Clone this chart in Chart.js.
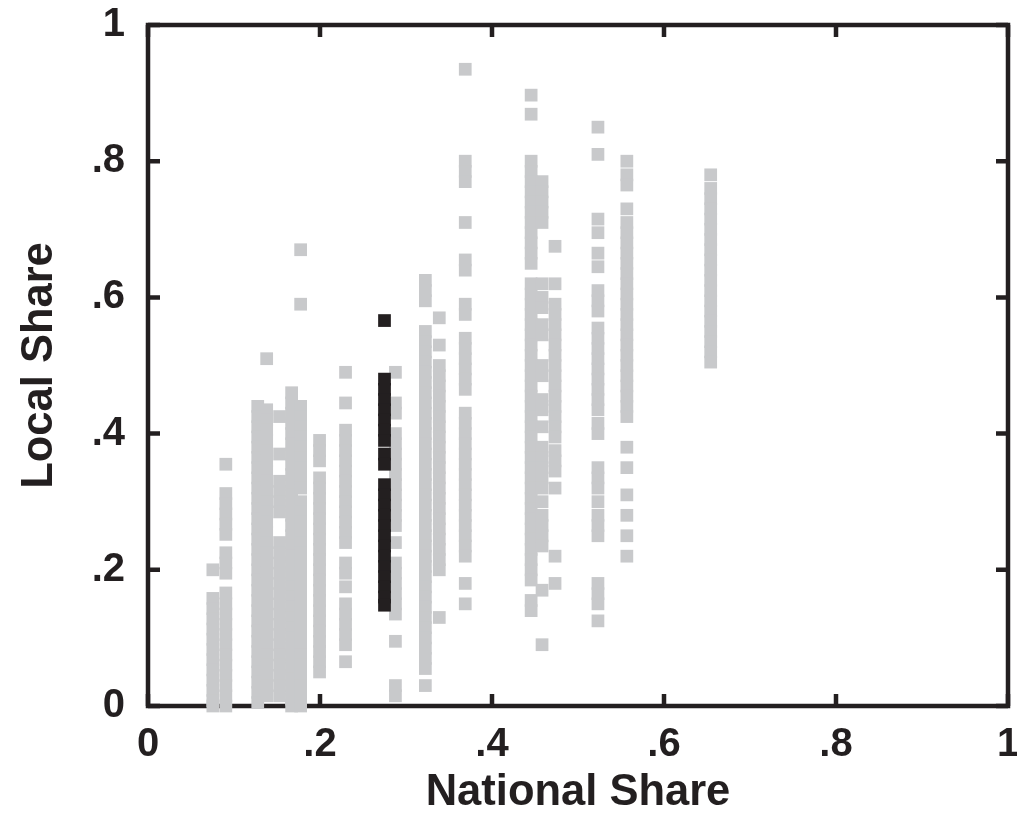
<!DOCTYPE html>
<html>
<head>
<meta charset="utf-8">
<script src="https://cdn.jsdelivr.net/npm/chart.js@4.4.1/dist/chart.umd.min.js"></script>
<style>
  html, body { margin: 0; padding: 0; background: #fff; }
  canvas { display: block; }
</style>
</head>
<body>
<canvas id="chart" width="1017" height="831"></canvas>
<script>
// axis ticks
const tickValues = [0, 0.2, 0.4, 0.6, 0.8, 1];
const tickLabels = ['0', '.2', '.4', '.6', '.8', '1'];

// highlighted column (black)
const highlightX = 0.275;
const highlightY = [0.566, 0.48, 0.465, 0.45, 0.435, 0.42, 0.405, 0.39, 0.37, 0.355, 0.325, 0.31, 0.295,
  0.28, 0.265, 0.25, 0.235, 0.22, 0.205, 0.19, 0.175, 0.16, 0.148];

// grey columns: national share of each column, then local shares
const colX = [0.0754, 0.0905, 0.1276, 0.138, 0.153, 0.167, 0.1775, 0.1995, 0.2297, 0.2877,
  0.3225, 0.3387, 0.3689, 0.4455, 0.4582, 0.4733, 0.5232, 0.5568, 0.6543];

const col0754 = [0.2, 0.158, 0.143, 0.128, 0.113, 0.098, 0.083, 0.068, 0.053, 0.038, 0.023, 0.008, 0];
const col0905 = [0.355, 0.312, 0.297, 0.282, 0.267, 0.252, 0.225, 0.21, 0.195, 0.166, 0.15, 0.135, 0.12,
  0.105, 0.09, 0.075, 0.06, 0.045, 0.03, 0.015, 0];
const col1276 = [0.44, 0.425, 0.41, 0.395, 0.38, 0.365, 0.35, 0.335, 0.32, 0.305, 0.29, 0.275, 0.26, 0.245,
  0.23, 0.215, 0.2, 0.185, 0.17, 0.155, 0.14, 0.125, 0.11, 0.095, 0.08, 0.065, 0.05, 0.035, 0.02, 0.005];
const col138 = [0.51, 0.435, 0.42, 0.405, 0.39, 0.375, 0.36, 0.345, 0.33, 0.315, 0.3, 0.285, 0.27, 0.255,
  0.24, 0.225, 0.21, 0.195, 0.18, 0.165, 0.15, 0.135, 0.12, 0.105, 0.09, 0.075, 0.06, 0.045, 0.03, 0.015];
const col153 = [0.425, 0.37, 0.33, 0.315, 0.3, 0.285, 0.24, 0.225, 0.21, 0.195, 0.18, 0.165, 0.15, 0.135,
  0.12, 0.105, 0.09, 0.075, 0.06, 0.045, 0.03, 0.015];
const col167 = [0.46, 0.445, 0.43, 0.415, 0.4, 0.385, 0.37, 0.355, 0.34, 0.325, 0.31, 0.295, 0.28, 0.265,
  0.25, 0.235, 0.22, 0.205, 0.19, 0.175, 0.16, 0.145, 0.13, 0.115, 0.1, 0.085, 0.07, 0.055, 0.04, 0.025, 0.01, 0];
const col1775 = [0.67, 0.59, 0.44, 0.425, 0.41, 0.395, 0.38, 0.365, 0.35, 0.335, 0.32, 0.3, 0.285, 0.27,
  0.255, 0.24, 0.225, 0.21, 0.195, 0.18, 0.165, 0.15, 0.135, 0.12, 0.105, 0.09, 0.075, 0.06, 0.045, 0.03,
  0.015, 0];
const col1995 = [0.39, 0.375, 0.36, 0.335, 0.32, 0.305, 0.29, 0.275, 0.26, 0.245, 0.23, 0.215, 0.2, 0.185,
  0.17, 0.155, 0.14, 0.125, 0.11, 0.095, 0.08, 0.065, 0.05];
const col2297 = [0.49, 0.445, 0.405, 0.39, 0.375, 0.36, 0.345, 0.33, 0.315, 0.3, 0.285, 0.27, 0.255, 0.24,
  0.21, 0.195, 0.175, 0.15, 0.135, 0.12, 0.105, 0.09, 0.065];
const col2877 = [0.49, 0.445, 0.43, 0.4, 0.385, 0.37, 0.355, 0.34, 0.325, 0.31, 0.295, 0.28, 0.265, 0.24,
  0.21, 0.195, 0.18, 0.165, 0.15, 0.135, 0.095, 0.03, 0.015];
const col3225 = [0.625, 0.61, 0.595, 0.55, 0.535, 0.52, 0.505, 0.49, 0.475, 0.46, 0.445, 0.43, 0.415, 0.4,
  0.385, 0.37, 0.355, 0.34, 0.325, 0.31, 0.295, 0.28, 0.265, 0.25, 0.235, 0.22, 0.205, 0.19, 0.175, 0.16,
  0.145, 0.13, 0.115, 0.1, 0.085, 0.07, 0.055, 0.03];
const col3387 = [0.57, 0.53, 0.5, 0.485, 0.47, 0.455, 0.44, 0.425, 0.41, 0.395, 0.38, 0.365, 0.35, 0.335,
  0.32, 0.305, 0.29, 0.275, 0.26, 0.245, 0.23, 0.215, 0.2, 0.13];
const col3689 = [0.935, 0.8, 0.785, 0.77, 0.71, 0.655, 0.64, 0.59, 0.575, 0.54, 0.525, 0.51, 0.495, 0.48,
  0.465, 0.43, 0.415, 0.4, 0.385, 0.37, 0.355, 0.34, 0.325, 0.31, 0.295, 0.28, 0.265, 0.25, 0.235, 0.22,
  0.18, 0.15];
const col4455 = [0.897, 0.869, 0.8, 0.785, 0.77, 0.755, 0.74, 0.725, 0.71, 0.695, 0.68, 0.665, 0.65, 0.62,
  0.605, 0.59, 0.575, 0.56, 0.545, 0.53, 0.515, 0.5, 0.485, 0.47, 0.455, 0.44, 0.425, 0.41, 0.395, 0.38,
  0.365, 0.35, 0.335, 0.32, 0.305, 0.29, 0.275, 0.26, 0.245, 0.23, 0.215, 0.2, 0.185, 0.155, 0.14];
const col4582 = [0.77, 0.755, 0.74, 0.725, 0.71, 0.62, 0.6, 0.585, 0.56, 0.545, 0.5, 0.485, 0.45, 0.435,
  0.41, 0.38, 0.365, 0.35, 0.335, 0.32, 0.3, 0.28, 0.265, 0.25, 0.235, 0.17, 0.09];
const col4733 = [0.675, 0.62, 0.59, 0.575, 0.56, 0.545, 0.53, 0.515, 0.5, 0.485, 0.47, 0.455, 0.44, 0.425,
  0.41, 0.395, 0.375, 0.36, 0.345, 0.32, 0.22, 0.18];
const col5232 = [0.85, 0.81, 0.715, 0.695, 0.665, 0.645, 0.61, 0.595, 0.58, 0.555, 0.54, 0.525, 0.51, 0.495,
  0.48, 0.465, 0.45, 0.435, 0.415, 0.4, 0.35, 0.335, 0.32, 0.3, 0.28, 0.265, 0.25, 0.18, 0.165, 0.15, 0.125];
const col5568 = [0.8, 0.78, 0.765, 0.73, 0.71, 0.695, 0.68, 0.665, 0.65, 0.635, 0.62, 0.605, 0.59, 0.575,
  0.56, 0.545, 0.53, 0.515, 0.5, 0.485, 0.47, 0.455, 0.44, 0.425, 0.38, 0.35, 0.31, 0.28, 0.25, 0.22];
const col6543 = [0.78, 0.76, 0.745, 0.73, 0.715, 0.7, 0.685, 0.67, 0.655, 0.64, 0.625, 0.61, 0.595, 0.58,
  0.565, 0.55, 0.535, 0.52, 0.505];

const colY = [col0754, col0905, col1276, col138, col153, col167, col1775, col1995, col2297, col2877,
  col3225, col3387, col3689, col4455, col4582, col4733, col5232, col5568, col6543];

const INK = '#231f20';
const GREY = '#c8c9cb';
const FONT = "'Liberation Sans', Arial, Helvetica, sans-serif";

const greyPoints = colY.flatMap((ys, i) => ys.map(y => ({ x: colX[i], y })));
const blackPoints = highlightY.map(y => ({ x: highlightX, y }));

// closed frame with inward ticks on all four sides
const framePlugin = {
  id: 'frame',
  beforeDatasetsDraw(chart) {
    const { ctx, chartArea: a, scales: { x, y } } = chart;
    const len = 12;
    ctx.save();
    ctx.strokeStyle = INK;
    ctx.lineWidth = 4.5;
    ctx.strokeRect(a.left, a.top, a.right - a.left, a.bottom - a.top);
    ctx.beginPath();
    x.ticks.forEach(t => {
      const px = x.getPixelForValue(t.value);
      ctx.moveTo(px, a.bottom); ctx.lineTo(px, a.bottom - len);
      ctx.moveTo(px, a.top); ctx.lineTo(px, a.top + len);
    });
    y.ticks.forEach(t => {
      const py = y.getPixelForValue(t.value);
      ctx.moveTo(a.left, py); ctx.lineTo(a.left + len, py);
      ctx.moveTo(a.right, py); ctx.lineTo(a.right - len, py);
    });
    ctx.stroke();
    ctx.restore();
  }
};

const axis = (title, titlePad) => ({
  type: 'linear',
  min: 0,
  max: 1,
  grid: { display: false, drawTicks: false },
  border: { display: false },
  afterBuildTicks: s => { s.ticks = tickValues.map(v => ({ value: v })); },
  ticks: {
    color: INK,
    font: { family: FONT, size: 40, weight: 'bold', lineHeight: 1 },
    callback: (v, i) => tickLabels[i]
  },
  title: {
    display: true,
    text: title,
    color: INK,
    font: { family: FONT, size: 43.5, weight: 'bold', lineHeight: 1 },
    padding: titlePad
  }
});

const xAxis = axis('National Share', { top: 0, bottom: 16 });
xAxis.ticks.padding = 19;
xAxis.afterFit = s => { s.height = 125; s.paddingLeft = 0; s.paddingRight = 0; };

const yAxis = axis('Local Share', { top: 18, bottom: 0 });
yAxis.ticks.padding = 23;
yAxis.afterFit = s => { s.width = 148; s.paddingTop = 0; s.paddingBottom = 0; };

new Chart(document.getElementById('chart'), {
  type: 'scatter',
  data: {
    datasets: [
      {
        label: 'Highlighted',
        data: blackPoints,
        pointStyle: 'rect',
        pointRadius: 9,
        backgroundColor: INK,
        borderWidth: 0,
        clip: false,
        order: 0
      },
      {
        label: 'Others',
        data: greyPoints,
        pointStyle: 'rect',
        pointRadius: 9,
        backgroundColor: GREY,
        borderWidth: 0,
        clip: false,
        order: 1
      }
    ]
  },
  options: {
    responsive: false,
    animation: false,
    events: [],
    layout: { padding: { top: 25, right: 6, bottom: 0, left: 0 } },
    plugins: {
      legend: { display: false },
      tooltip: { enabled: false }
    },
    scales: { x: xAxis, y: yAxis }
  },
  plugins: [framePlugin]
});
</script>
</body>
</html>
